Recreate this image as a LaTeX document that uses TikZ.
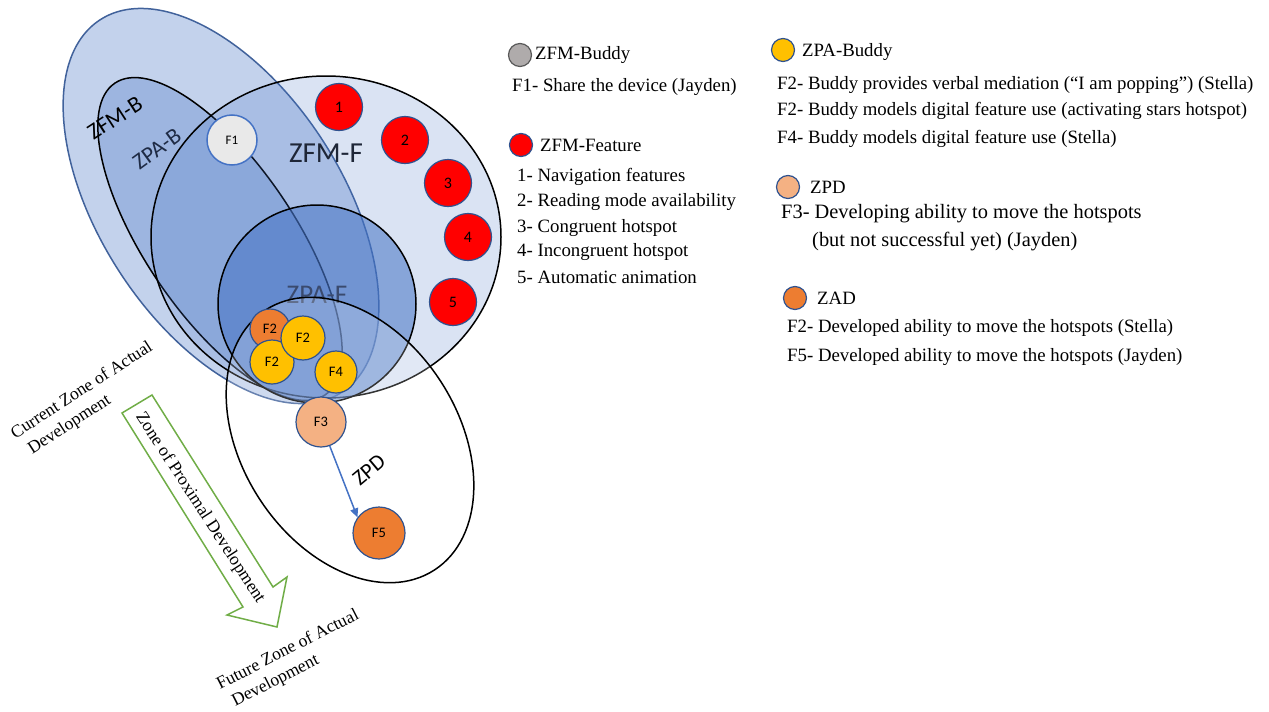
\documentclass[tikz,border=0pt]{standalone}
\usepackage{fontspec}
\setmainfont{Liberation Serif}
\newfontfamily\calib{Carlito}
\usetikzlibrary{arrows.meta}
\definecolor{zoneblue}{HTML}{4472C4}
\definecolor{zoneedge}{HTML}{41629B}
\definecolor{dotedge}{HTML}{2F528F}
\definecolor{featred}{HTML}{FF0000}
\definecolor{buddyyellow}{HTML}{FFC000}
\definecolor{zadorange}{HTML}{ED7D31}
\definecolor{zpdpeach}{HTML}{F4B183}
\definecolor{sharegrey}{HTML}{E9E9E9}
\definecolor{legendgrey}{HTML}{AFABAB}
\definecolor{legendgreyedge}{HTML}{595959}
\definecolor{arrowgreen}{HTML}{70AD47}
\definecolor{labeldark}{HTML}{1E2637}
\definecolor{labelnavy}{HTML}{1F2B45}
\definecolor{labelmuted}{HTML}{3A4A6E}
\begin{document}
\begin{tikzpicture}[x=1pt, y=-1pt,
  zone/.style={line width=1.5pt},
  dot/.style={circle, draw=dotedge, line width=1.2pt, inner sep=0pt, text=black},
  featdot/.style={dot, fill=featred, minimum size=47pt, font=\calib\fontsize{16}{16}\selectfont},
  fdot/.style={dot, font=\calib\fontsize{14.5}{14.5}\selectfont},
  legdot/.style={dot, minimum size=23pt},
  legtxt/.style={anchor=west, inner sep=0pt, font=\fontsize{18.8}{22}\selectfont},
  legbig/.style={anchor=west, inner sep=0pt, font=\fontsize{20.4}{24}\selectfont},
  zonelbl/.style={inner sep=0pt, font=\calib\fontsize{23}{23}\selectfont},
  devlbl/.style={inner sep=0pt, align=left, font=\fontsize{17.6}{22}\selectfont},
]
\useasboundingbox (0,0) rectangle (1269,712);

% nested zones
\filldraw[zone, fill=zoneblue, fill opacity=0.32, draw=zoneedge,
  rotate around={-57:(221,206)}] (221,206) ellipse [x radius=222, y radius=121];
\filldraw[zone, fill=zoneblue, fill opacity=0.30, draw=black,
  rotate around={-56:(220,239)}] (220,239) ellipse [x radius=188, y radius=75];
\filldraw[zone, fill=zoneblue, fill opacity=0.20, draw=black]
  (326,237) ellipse [x radius=175, y radius=161];
\filldraw[zone, fill=zoneblue, fill opacity=0.55, draw=black]
  (317,304) circle [radius=99];
\node[inner sep=0pt, font=\calib\fontsize{27}{27}\selectfont, text=labelmuted] (lzpaf) at (317,295) {ZPA-F};
\filldraw[zone, fill=white, fill opacity=0.20, draw=black,
  rotate around={-57:(350,440)}] (350,440) ellipse [x radius=155, y radius=108];

% zone labels
\node[zonelbl, rotate=33] (lzfmb) at (115,118) {ZFM-B};
\node[zonelbl, rotate=36, text=labelnavy] (lzpab) at (157,149) {ZPA-B};
\node[inner sep=0pt, font=\calib\fontsize{29}{29}\selectfont, text=labeldark] (lzfmf) at (326,153) {ZFM-F};
\node[inner sep=0pt, font=\calib\fontsize{22}{22}\selectfont, rotate=40] (lzpd) at (369,470) {ZPD};

% feature circles
\node[featdot] (n1) at (339,107) {1};
\node[featdot] (n2) at (405,140) {2};
\node[featdot] (n3) at (448,183) {3};
\node[featdot] (n4) at (468,237) {4};
\node[featdot] (n5) at (453,302) {5};

% buddy and development circles
\node[dot, draw=zoneblue, line width=1.5pt, fill=sharegrey, minimum size=50pt,
  font=\calib\fontsize{13}{13}\selectfont] (f1) at (232,140) {F1};
\node[fdot, fill=zadorange, minimum size=40pt] (f2a) at (270,329) {F2};
\node[fdot, fill=buddyyellow, minimum size=44pt] (f2c) at (272,362) {F2};
\node[fdot, fill=buddyyellow, minimum size=44pt] (f2b) at (303,338) {F2};
\node[fdot, fill=buddyyellow, minimum size=42pt] (f4) at (336,372) {F4};
\node[fdot, fill=zpdpeach, minimum size=50pt] (f3) at (321,422) {F3};
\node[fdot, fill=zadorange, minimum size=52pt] (f5) at (379,533) {F5};
\draw[zoneblue, line width=1.5pt, -{Triangle[length=9pt, width=8pt]}] (f3.-70) -- (f5.144);

% development arrow
\draw[arrowgreen, line width=1.5pt, line join=miter]
  (122,413) -- (152,395) -- (273,587) -- (287,577) -- (277,627) -- (227,615) -- (243,607) -- cycle;
\node[devlbl, rotate=-57] (zpdtext) at (200,508) {Zone of Proximal Development};
\node[devlbl, rotate=33] (current) at (88,400) {Current Zone of Actual\\\hspace*{6pt}Development};
\node[devlbl, rotate=27] (future) at (293,660) {Future Zone of Actual\\\hspace*{6pt}Development};

% legend, first column
\node[legdot, fill=legendgrey, draw=legendgreyedge] (lc1) at (520,55) {};
\node[legtxt] (lt1) at (535,55) {ZFM-Buddy};
\node[legtxt] (lf1) at (512,87) {F1- Share the device (Jayden)};
\node[legdot, fill=featred] (lc2) at (521,145) {};
\node[legtxt] (lt2) at (540,145) {ZFM-Feature};
\node[legtxt] (ln1) at (517,177) {1- Navigation features};
\node[legtxt] (ln2) at (517,202) {2- Reading mode availability};
\node[legtxt] (ln3) at (517,228) {3- Congruent hotspot};
\node[legtxt] (ln4) at (517,252) {4- Incongruent hotspot};
\node[legtxt] (ln5) at (517,277) {5- Automatic animation};

% legend, second column
\node[legdot, fill=buddyyellow] (lc3) at (783,50) {};
\node[legtxt] (lt3) at (802,52) {ZPA-Buddy};
\node[legtxt] (lb1) at (777,85) {F2- Buddy provides verbal mediation (“I am popping”) (Stella)};
\node[legtxt] (lb2) at (777,111) {F2- Buddy models digital feature use (activating stars hotspot)};
\node[legtxt] (lb3) at (777,139) {F4- Buddy models digital feature use (Stella)};
\node[legdot, fill=zpdpeach] (lc4) at (788,187) {};
\node[legtxt] (lt4) at (810,187) {ZPD};
\node[legbig] (lp1) at (781,214) {F3- Developing ability to move the hotspots};
\node[legbig] (lp2) at (812,242) {(but not successful yet) (Jayden)};
\node[legdot, fill=zadorange] (lc5) at (795,298) {};
\node[legtxt] (lt5) at (817,298) {ZAD};
\node[legtxt] (la1) at (787,328) {F2- Developed ability to move the hotspots (Stella)};
\node[legtxt] (la2) at (787,357) {F5- Developed ability to move the hotspots (Jayden)};
\end{tikzpicture}
\end{document}
